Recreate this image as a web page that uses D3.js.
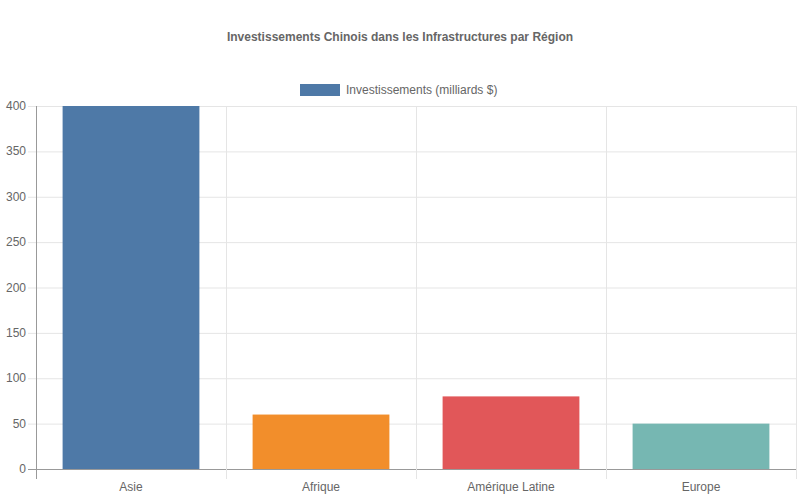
<!DOCTYPE html>
<html><head><meta charset="utf-8">
<script src="https://cdn.jsdelivr.net/npm/d3@7"></script>
<style>body{margin:0;background:#fff}text{font-family:"Liberation Sans",Arial,sans-serif}</style>
</head><body><svg width="800" height="500"></svg>
<script>
var regions = ["Asie", "Afrique", "Amérique Latine", "Europe"];
var values = [400, 60, 80, 50];
var colors = ["#4e79a7", "#f28e2b", "#e15759", "#76b7b2"];
var yTicks = [0, 50, 100, 150, 200, 250, 300, 350, 400];

var svg = d3.select("svg");
var plotLeft = 36, plotRight = 796, plotTop = 106, plotBottom = 469;

var x = d3.scaleBand().domain(regions).range([plotLeft, plotRight]).paddingInner(0).paddingOuter(0);
var y = d3.scaleLinear().domain([0, 400]).range([plotBottom, plotTop]);

svg.append("text").attr("x", 400).attr("y", 41).attr("text-anchor", "middle")
  .style("font-size", "12px").style("font-weight", "bold").style("fill", "#666")
  .text("Investissements Chinois dans les Infrastructures par Région");

// legend
svg.append("rect").attr("x", 300).attr("y", 84).attr("width", 40).attr("height", 12).attr("fill", colors[0]);
svg.append("text").attr("x", 346).attr("y", 94).style("font-size", "12px").style("fill", "#666")
  .text("Investissements (milliards $)");

// horizontal grid
svg.selectAll(".hg").data(yTicks).enter().append("line")
  .attr("x1", plotLeft - 8).attr("x2", plotRight)
  .attr("y1", d => y(d) + 0.5).attr("y2", d => y(d) + 0.5)
  .attr("stroke", d => d === 0 ? "#999" : "#e5e5e5");
svg.selectAll(".yl").data(yTicks).enter().append("text")
  .attr("x", plotLeft - 10).attr("y", d => y(d) + 4).attr("text-anchor", "end")
  .style("font-size", "12px").style("fill", "#666").text(d => d);

// vertical grid
var vx = regions.map(r => x(r)).concat([plotRight]);
svg.selectAll(".vg").data(vx).enter().append("line")
  .attr("x1", d => d + 0.5).attr("x2", d => d + 0.5)
  .attr("y1", plotTop).attr("y2", plotBottom + 10)
  .attr("stroke", (d, i) => i === 0 ? "#999" : "#e5e5e5");

svg.selectAll(".bar").data(regions).enter().append("rect")
  .attr("x", d => x(d) + x.bandwidth() * 0.14)
  .attr("width", x.bandwidth() * 0.72)
  .attr("y", (d, i) => y(values[i]))
  .attr("height", (d, i) => plotBottom - y(values[i]))
  .attr("fill", (d, i) => colors[i]);

svg.selectAll(".xl").data(regions).enter().append("text")
  .attr("x", d => x(d) + x.bandwidth() / 2).attr("y", 491).attr("text-anchor", "middle")
  .style("font-size", "12px").style("fill", "#666").text(d => d);
</script></body></html>
